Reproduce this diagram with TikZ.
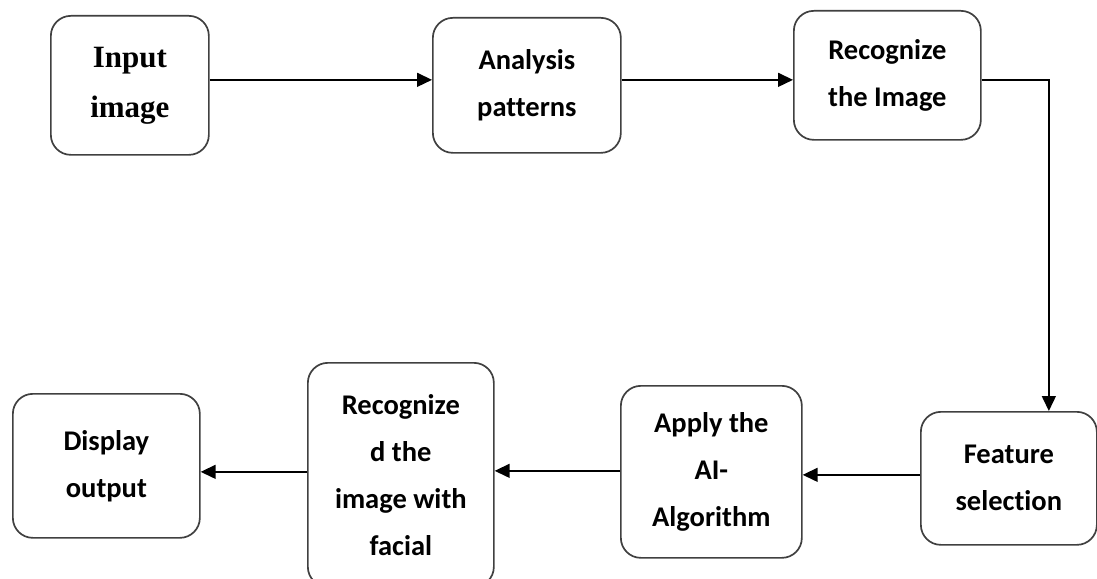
\documentclass[tikz,border=0pt]{standalone}
\usepackage{fontspec}
\setmainfont[RawFeature={-liga;-clig;-calt;-dlig}]{Carlito}
\newfontfamily\timesfont{Liberation Serif}
\usepackage{tikz}
\usetikzlibrary{arrows.meta,positioning}

\begin{document}
\begin{tikzpicture}[x=1pt,y=-1pt,
        box/.style={rounded corners=20pt,draw=black!75,line width=1.7pt,
                    anchor=north west,align=center,inner sep=0pt,
                    font=\fontsize{28.5}{47}\selectfont\bfseries},
        arrow/.style={-{Triangle[length=15pt,width=14pt]},black,line width=1.5pt}]
        \useasboundingbox (0,0) rectangle (1097,578);
        \node[box,minimum width=158pt,minimum height=139pt,
              font=\fontsize{31}{50}\selectfont\timesfont\bfseries] (inp) at (50,15)
          {Input\\image};
        \node[box,minimum width=188pt,minimum height=135pt] (ana) at (432,17)
          {Analysis\\patterns};
        \node[box,minimum width=187pt,minimum height=129pt] (rec) at (793,10)
          {Recognize\\the Image};
        \node[box,minimum width=176pt,minimum height=133pt] (feat) at (920,411)
          {Feature\\selection};
        \node[box,minimum width=181pt,minimum height=172pt] (app) at (620,385)
          {Apply the\\AI-\\Algorithm};
        \node[box,minimum width=186pt,minimum height=224pt] (recd) at (307,362)
          {Recognize\\d the\\image with\\facial};
        \node[box,minimum width=187pt,minimum height=144pt] (disp) at (12,393)
          {Display\\output};
        \draw[arrow] ([yshift=5.5pt]inp.east)--([yshift=5.5pt]ana.west);
        \draw[arrow] ([yshift=5.5pt]ana.east)--([yshift=-4.5pt]rec.west);
        \draw[arrow] ([yshift=-4.5pt]rec.east) -| ([xshift=40pt]feat.north);
        \draw[arrow] ([yshift=3.5pt]feat.west)--([yshift=-3pt]app.east);
        \draw[arrow] ([yshift=1pt]app.west)--([yshift=4pt]recd.east);
        \draw[arrow] ([yshift=3pt]recd.west)--([yshift=-6pt]disp.east);
      \end{tikzpicture}
\end{document}
